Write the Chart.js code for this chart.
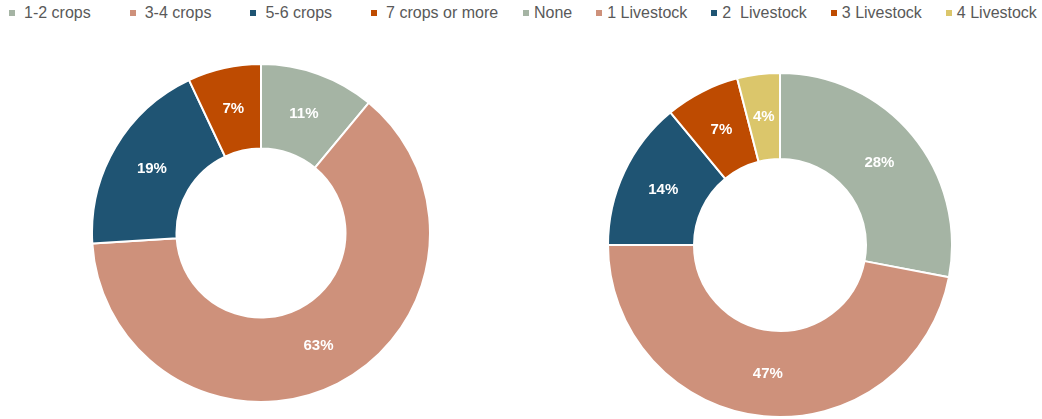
<!DOCTYPE html>
<html>
<head>
<meta charset="utf-8">
<title>Crops and livestock</title>
<script src="https://cdn.jsdelivr.net/npm/chart.js@4.4.1/dist/chart.umd.min.js"></script>
<style>
    html, body {
        margin: 0;
        padding: 0;
        background: #ffffff;
        width: 1042px;
        height: 419px;
        overflow: hidden;
        font-family: "Liberation Sans", Arial, sans-serif;
    }
    .legend {
        position: absolute;
        top: 4px;
        display: flex;
        align-items: center;
        height: 18px;
    }
    .legend-item {
        display: flex;
        align-items: center;
        font-size: 16px;
        line-height: 18px;
        color: #595959;
    }
    .legend-text {
        white-space: pre;
    }
    .legend-swatch {
        display: inline-block;
        width: 6px;
        height: 6px;
    }
    .pie-box {
        position: absolute;
    }
</style>
</head>
<body>

<div id="legendCrops" class="legend" style="left: 9px;"></div>
<div id="legendLivestock" class="legend" style="left: 523px;"></div>

<div class="pie-box" style="left: 91px; top: 63px; width: 340px; height: 340px;">
    <canvas id="cropsChart"></canvas>
</div>
<div class="pie-box" style="left: 607px; top: 72px; width: 346px; height: 346px;">
    <canvas id="livestockChart"></canvas>
</div>

<script>
// Number of crops grown (share of households, %)
const cropLabels = ['1-2 crops', '3-4 crops', '5-6 crops', '7 crops or more'];
const cropShares = [11, 63, 19, 7];
const cropColors = ['#A5B4A4', '#CE917B', '#1F5473', '#BE4B01'];

// Number of livestock kinds kept (share of households, %)
const livestockLabels = ['None', '1 Livestock', '2  Livestock', '3 Livestock', '4 Livestock'];
const livestockShares = [28, 47, 14, 7, 4];
const livestockColors = ['#A5B4A4', '#CE917B', '#1F5473', '#BE4B01', '#DBC66B'];

/**
 * Build one legend row from label / colour lists
 */
function buildLegend(id, labels, colors, itemGap, swatchGap) {
    const el = document.getElementById(id);
    el.innerHTML = labels.map((label, i) =>
        `<div class="legend-item" style="margin-right: ${i < labels.length - 1 ? itemGap : 0}px">` +
        `<span class="legend-swatch" style="background: ${colors[i]}; margin-right: ${swatchGap}px"></span>` +
        `<span class="legend-text">${label}</span></div>`
    ).join('');
}

buildLegend('legendCrops', cropLabels, cropColors, 39, 9);
buildLegend('legendLivestock', livestockLabels, livestockColors, 24, 5);

// Percent labels in the middle of each slice
const sliceLabels = {
    id: 'sliceLabels',
    afterDatasetsDraw(chart) {
        const ctx = chart.ctx;
        const values = chart.data.datasets[0].data;
        ctx.save();
        ctx.font = 'bold 15px "Liberation Sans", Arial, sans-serif';
        ctx.fillStyle = '#ffffff';
        ctx.textAlign = 'center';
        ctx.textBaseline = 'middle';
        chart.getDatasetMeta(0).data.forEach((arc, i) => {
            const p = arc.getCenterPoint();
            ctx.fillText(values[i] + '%', p.x, p.y);
        });
        ctx.restore();
    }
};

function makeDoughnut(canvasId, labels, values, colors) {
    return new Chart(document.getElementById(canvasId), {
        type: 'doughnut',
        data: {
            labels: labels,
            datasets: [{
                data: values,
                backgroundColor: colors,
                borderColor: '#ffffff',
                borderWidth: 2
            }]
        },
        options: {
            responsive: true,
            maintainAspectRatio: false,
            animation: false,
            cutout: '50%',
            layout: { padding: 0 },
            plugins: {
                legend: { display: false },
                tooltip: { enabled: false }
            }
        },
        plugins: [sliceLabels]
    });
}

makeDoughnut('cropsChart', cropLabels, cropShares, cropColors);
makeDoughnut('livestockChart', livestockLabels, livestockShares, livestockColors);
</script>
</body>
</html>
